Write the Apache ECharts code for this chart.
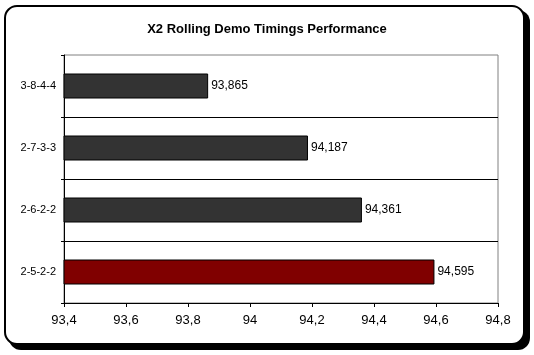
<!DOCTYPE html>
<html>
<head>
<meta charset="utf-8">
<script src="https://cdn.jsdelivr.net/npm/echarts@6/dist/echarts.min.js"></script>
<style>html,body{margin:0;padding:0;background:#fff}#c{width:534px;height:355px}</style>
</head>
<body>
<div id="c"></div>
<script>
var titleText = 'X2 Rolling Demo Timings Performance';
var categories = ['3-8-4-4', '2-7-3-3', '2-6-2-2', '2-5-2-2'];
var timings = [93.865, 94.187, 94.361, 94.595];
var xTicks = [93.4, 93.6, 93.8, 94, 94.2, 94.4, 94.6, 94.8];

var barColors = ['#333333', '#333333', '#333333', '#800000'];
var font = '"Liberation Sans", Arial, sans-serif';
function fmt(v) { return String(+(+v).toFixed(3)).replace('.', ','); }

var chart = echarts.init(document.getElementById('c'), null, {renderer: 'canvas'});
chart.setOption({
  animation: false,
  backgroundColor: '#ffffff',
  graphic: [
    {type: 'rect', z: -100, shape: {x: 9, y: 10, width: 521, height: 340, r: 12}, style: {fill: '#000'}},
    {type: 'rect', z: -99, shape: {x: 5, y: 6, width: 519, height: 338, r: 12}, style: {fill: '#fff', stroke: '#000', lineWidth: 2}}
  ],
  title: {
    text: titleText, left: 'center', top: 18,
    textStyle: {fontFamily: font, fontSize: 13, fontWeight: 'bold', color: '#000'}
  },
  grid: {left: 64, right: 36, top: 55, bottom: 52, show: true, borderColor: '#808080', borderWidth: 1, backgroundColor: 'transparent'},
  xAxis: {
    type: 'value', min: xTicks[0], max: xTicks[xTicks.length - 1], interval: 0.2,
    axisLine: {show: true, lineStyle: {color: '#000', width: 1}},
    axisTick: {show: true, length: 4, inside: false, lineStyle: {color: '#000'}},
    splitLine: {show: false},
    axisLabel: {margin: 11, color: '#000', fontSize: 13, fontFamily: font, formatter: fmt}
  },
  yAxis: {
    type: 'category', data: categories, inverse: true,
    axisLine: {show: true, lineStyle: {color: '#000', width: 1}},
    axisTick: {show: true, length: 3, lineStyle: {color: '#000'}},
    splitLine: {show: true, showMinLine: false, showMaxLine: false, lineStyle: {color: '#000', width: 1}},
    axisLabel: {margin: 8, color: '#000', fontSize: 11, fontFamily: font}
  },
  series: [{
    type: 'bar', data: timings, barWidth: 25,
    itemStyle: {
      borderColor: '#000', borderWidth: 1,
      color: function (p) { return barColors[p.dataIndex]; }
    },
    label: {
      show: true, position: 'right', distance: 3, color: '#000',
      fontSize: 12, fontFamily: font,
      formatter: function (p) { return fmt(p.value); }
    }
  }]
});
</script>
</body>
</html>
